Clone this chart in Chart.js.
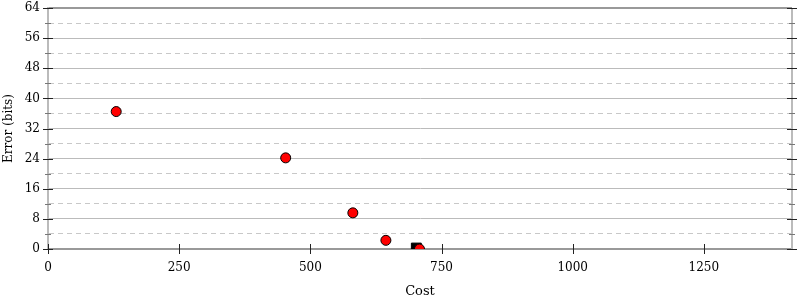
<!DOCTYPE html>
<html>
<head>
<meta charset="utf-8">
<script src="https://cdn.jsdelivr.net/npm/chart.js@4"></script>
<style>
  html, body { margin: 0; padding: 0; background: #fff; }
  #wrap { width: 800px; height: 300px; }
</style>
</head>
<body>
<div id="wrap"><canvas id="c" width="800" height="300"></canvas></div>
<script>
// Data
const costValues  = [130, 453, 581, 644, 708];
const errorValues = [36.5, 24.2, 9.6, 2.3, 0.0];
const bestCost  = [702];
const bestError = [0.25];
const xTickValues = [0, 250, 500, 750, 1000, 1250];
const yTickLabels = [0, 8, 16, 24, 32, 40, 48, 56, 64];
const xTitle = 'Cost';
const yTitle = 'Error (bits)';
const X_MAX = 1418;
const Y_MAX = 64;

const FONT = "'DejaVu Serif', serif";

const tickMarks = {
  id: 'tickMarks',
  afterDraw(chart) {
    const ctx = chart.ctx;
    const xs = chart.scales.x, ys = chart.scales.y;
    const a = chart.chartArea;
    ctx.save();
    ctx.strokeStyle = '#bbb';
    ctx.lineWidth = 2;
    ctx.beginPath();
    ctx.moveTo(a.right, a.top);
    ctx.lineTo(a.right, a.bottom);
    ctx.stroke();
    for (let v = 0; v <= Y_MAX; v += 4) {
      const y = Math.round(ys.getPixelForValue(v)) + 0.5;
      const major = yTickLabels.includes(v);
      ctx.strokeStyle = major ? '#222' : '#777';
      ctx.lineWidth = 1;
      const l = major ? 5 : 3;
      ctx.beginPath();
      ctx.moveTo(a.left - l, y); ctx.lineTo(a.left + l, y);
      ctx.moveTo(a.right - l, y); ctx.lineTo(a.right + l, y);
      ctx.stroke();
    }
    ctx.strokeStyle = '#222';
    for (const v of xTickValues) {
      const x = Math.round(xs.getPixelForValue(v)) + 0.5;
      ctx.beginPath();
      ctx.moveTo(x, a.bottom - 5); ctx.lineTo(x, a.bottom + 5);
      ctx.stroke();
    }
    ctx.restore();
  }
};

new Chart(document.getElementById('c'), {
  type: 'scatter',
  data: {
    datasets: [
      {
        label: 'points',
        data: costValues.map((c, i) => ({ x: c, y: errorValues[i] })),
        backgroundColor: '#ff0000',
        borderColor: '#000',
        borderWidth: 1,
        pointRadius: 5,
        pointHoverRadius: 5,
        order: 0
      },
      {
        label: 'best',
        data: bestCost.map((c, i) => ({ x: c, y: bestError[i] })),
        backgroundColor: '#000',
        borderColor: '#000',
        borderWidth: 1,
        pointStyle: 'rect',
        pointRadius: 7,
        pointHoverRadius: 7,
        order: 1
      }
    ]
  },
  options: {
    responsive: false,
    animation: false,
    events: [],
    layout: { padding: { left: 0, right: 6, top: 8, bottom: 0 } },
    plugins: { legend: { display: false }, tooltip: { enabled: false } },
    scales: {
      x: {
        type: 'linear',
        min: 0,
        max: X_MAX,
        afterFit(s) { s.height = 51; s.paddingLeft = 0; s.paddingRight = 0; },
        afterBuildTicks(s) { s.ticks = xTickValues.map(v => ({ value: v })); },
        ticks: {
          color: '#000',
          font: { family: FONT, size: 12 },
          padding: 12,
          maxRotation: 0,
          autoSkip: false,
          callback: (v) => String(v)
        },
        grid: { display: true, drawOnChartArea: false, drawTicks: false, color: 'rgba(0,0,0,0)' },
        border: { display: true, color: '#999', width: 2 },
        title: {
          display: true,
          text: xTitle,
          color: '#000',
          font: { family: FONT, size: 13 },
          padding: { top: 2, bottom: 1 }
        }
      },
      y: {
        type: 'linear',
        min: 0,
        max: Y_MAX,
        afterFit(s) { s.width = 48; s.paddingTop = 0; s.paddingBottom = 0; },
        ticks: {
          stepSize: 4,
          color: '#000',
          font: { family: FONT, size: 12 },
          padding: 8,
          autoSkip: false,
          callback: (v) => (yTickLabels.includes(v) ? String(v) : '')
        },
        grid: {
          drawTicks: false,
          color: (ctx) => {
            const v = ctx.tick ? ctx.tick.value : 0;
            if (v === 0 || v === Y_MAX) return '#999';
            return yTickLabels.includes(v) ? '#bbb' : '#c8c8c8';
          },
          lineWidth: (ctx) => {
            const v = ctx.tick ? ctx.tick.value : 0;
            return (v === 0 || v === Y_MAX) ? 2 : 1;
          }
        },
        border: {
          display: true,
          color: '#bbb',
          width: 2,
          dash: (ctx) => {
            if (!ctx.tick) return [];
            return yTickLabels.includes(ctx.tick.value) ? [] : [5, 4];
          }
        },
        title: {
          display: true,
          text: yTitle,
          color: '#000',
          font: { family: FONT, size: 12 },
          padding: { top: 2, bottom: 2 }
        }
      }
    }
  },
  plugins: [tickMarks]
});
</script>
</body>
</html>
